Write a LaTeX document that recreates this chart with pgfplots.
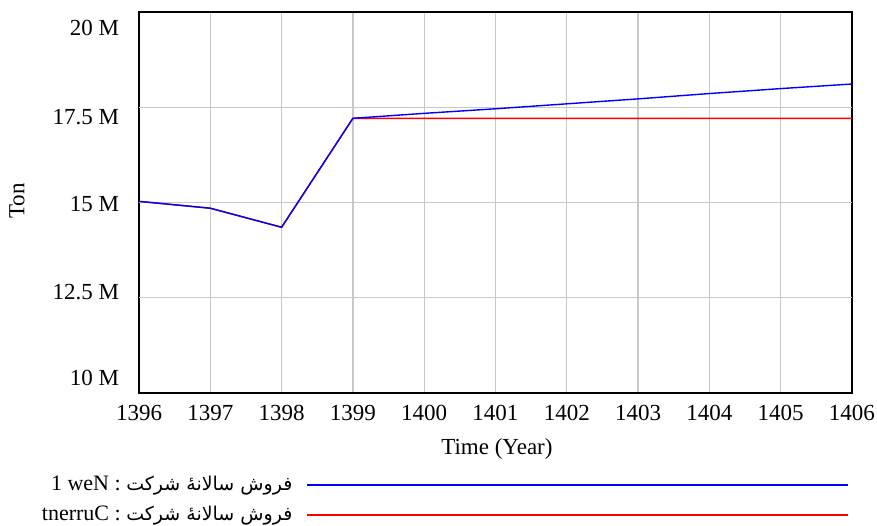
\documentclass[border=0pt]{standalone}
\usepackage{pgfplots}
\pgfplotsset{compat=1.18}
\usepackage{fontspec}
\setmainfont{Liberation Serif}
\newfontfamily\arabicfont[Script=Arabic]{DejaVu Sans}
\TeXXeTstate=1
\definecolor{gridgray}{RGB}{200,200,200}
\definecolor{vblue}{RGB}{0,0,255}
\definecolor{vred}{RGB}{255,0,0}
\begin{document}
\fontsize{23}{27}\selectfont
\begin{tikzpicture}
\path[use as bounding box] (0pt,0pt) rectangle (877pt,-525pt);
\begin{axis}[
  at={(139pt,-393pt)}, anchor=south west,
  scale only axis, width=713pt, height=381pt,
  xmin=1396, xmax=1406, ymin=10, ymax=20,
  xtick={1396,1397,...,1406},
  /pgf/number format/1000 sep={},
  /pgf/number format/assume math mode=true,
  ytick={10.39,12.66,14.96,17.24,19.58},
  yticklabels={10 M,12.5 M,15 M,17.5 M,20 M},
  extra y ticks={12.5,15,17.5},
  extra y tick labels={},
  extra y tick style={grid=major},
  xmajorgrids=true, ymajorgrids=false,
  major tick length=0pt,
  grid style={gridgray, line width=1.3pt},
  axis line style={black, line width=2.6pt},
  tick label style={font=\fontsize{23}{27}\selectfont},
  xticklabel style={yshift=-4pt},
  yticklabel style={xshift=-12pt},
  xlabel={Time (Year)},
  ylabel={Ton},
  label style={font=\fontsize{23}{27}\selectfont},
  xlabel style={at={(axis description cs:0.502,-0.1)}, anchor=north},
  ylabel style={at={(axis description cs:-0.171,0.504)}, anchor=center},
  legend plot pos=right,
  legend cell align=right,
  reverse legend,
  legend image code/.code={\draw[#1] (0pt,0pt) -- (541pt,0pt);},
  legend style={at={(axis description cs:1.0,-0.207)}, anchor=north east,
    draw=none, fill=none, font=\fontsize{22}{26}\selectfont,
    row sep=8pt, /tikz/every odd column/.append style={column sep=12pt}},
]
\addplot[vred, line width=1.4pt] coordinates {
(1396,15.03) (1397,14.85) (1398,14.35) (1399,17.21) (1400,17.21) (1401,17.21)
(1402,17.21) (1403,17.21) (1404,17.21) (1405,17.21) (1406,17.21)};
\addlegendentry{tnerruC : {\arabicfont\fontsize{19}{23}\selectfont\beginR فروش سالانهٔ شرکت\endR}}
\addplot[vblue, line width=1.4pt] coordinates {
(1396,15.03) (1397,14.85) (1398,14.35) (1399,17.21) (1400,17.34) (1401,17.46)
(1402,17.59) (1403,17.72) (1404,17.86) (1405,17.99) (1406,18.11)};
\addlegendentry{1 weN : {\arabicfont\fontsize{19}{23}\selectfont\beginR فروش سالانهٔ شرکت\endR}}
\end{axis}
\end{tikzpicture}
\end{document}
